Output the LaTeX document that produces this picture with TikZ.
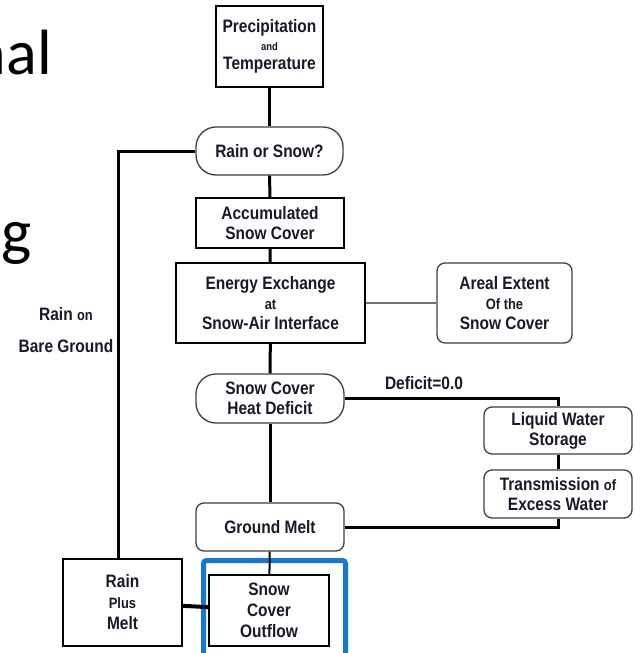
\documentclass[tikz,border=0pt]{standalone}
\usepackage{fontspec}
\newfontfamily\boxfont[FakeStretch=0.86]{Liberation Sans}
\newfontfamily\slidefont{Carlito}
\definecolor{txt}{RGB}{25,25,40}
\definecolor{frameblue}{RGB}{20,120,215}
\newcommand{\lil}[2][15]{{\fontsize{#1}{#1}\selectfont #2}}
\tikzset{box/.style={draw=black, line width=1.6pt, fill=white, text=txt, align=center, inner sep=0pt,
                     font={\boxfont\bfseries\fontsize{18}{20}\selectfont}},
         rbox/.style={box, draw=black!75, line width=1.3pt, rounded corners=8pt},
         pill/.style={rbox, rounded corners=20pt},
         link/.style={black, line width=3pt},
         lbl/.style={text=txt, inner sep=0pt, font={\boxfont\bfseries\fontsize{18}{20}\selectfont}}}

\begin{document}
\begin{tikzpicture}[x=1pt,y=-1pt]
  \clip (0,0) rectangle (633,653);
  \fill[white] (0,0) rectangle (633,653);
  % slide title fragments
  \node[font={\slidefont\fontsize{64}{64}\selectfont}, anchor=base east, inner sep=0pt] (titlea) at (52,74) {nal};
  \node[font={\slidefont\fontsize{64}{64}\selectfont}, anchor=base west, inner sep=0pt] (titleb) at (1,253) {g};
  % highlight frame
  \draw[frameblue, line width=5pt, rounded corners=3pt] (203.5,560.5) rectangle (345.5,700);
  % boxes
  \node[box, minimum width=107pt, minimum height=81pt] (prec) at (269.5,46.5)
       {Precipitation\\[-2pt]\lil[11]{and}\\[-1pt]Temperature};
  \node[pill, minimum width=147pt, minimum height=48pt] (rain) at (269.5,151) {Rain or Snow?};
  \node[box, minimum width=148pt, minimum height=50pt] (accum) at (270,223) {Accumulated\\Snow Cover};
  \node[box, minimum width=189pt, minimum height=80pt] (energy) at (270.5,303)
       {Energy Exchange\\\lil{at}\\Snow-Air Interface};
  \node[rbox, minimum width=135pt, minimum height=80pt] (areal) at (504.5,303)
       {Areal Extent\\\lil{Of the}\\Snow Cover};
  \node[pill, minimum width=148pt, minimum height=49pt] (deficit) at (270,398.5) {Snow Cover\\Heat Deficit};
  \node[rbox, minimum width=148pt, minimum height=47pt] (liquid) at (558,430.5) {Liquid Water\\Storage};
  \node[rbox, minimum width=148pt, minimum height=48pt] (trans) at (558,494) {Transmission \lil{of}\\Excess Water};
  \node[rbox, minimum width=148pt, minimum height=48pt] (ground) at (270,527) {Ground Melt};
  \node[box, minimum width=120pt, minimum height=71pt] (outflow) at (269,610.5) {Snow\\[1pt]Cover\\[1pt]Outflow};
  \node[box, minimum width=119pt, minimum height=87pt] (rpm) at (122.5,602.5) {Rain\\[1pt]\lil{Plus}\\[1pt]Melt};
  % labels
  \node[lbl, align=center] (barelbl) at (66,330) {Rain \lil{on}\\[12pt]Bare Ground};
  \node[lbl] (deflbl) at (424,383.5) {Deficit=0.0};
  % connectors
  \coordinate (lft) at (118,151);
  \draw[link] (prec) -- (rain);
  \draw[link] (rain) -- (accum);
  \draw[link] (accum) -- (energy);
  \draw[link] (energy) -- (deficit);
  \draw[link] (deficit) -- (ground);
  \draw[black, line width=2pt] (ground) -- (outflow);
  \draw[black!55, line width=2pt] (energy) -- (areal);
  \draw[link] (rain.west) -- (lft) -- (lft |- rpm.north);
  \draw[link] (deficit.east) -| (liquid.north);
  \draw[link] (liquid) -- (trans);
  \draw[link] (trans.south) |- (ground.east);
  \draw[black, line width=4pt] (rpm) -- (outflow);
\end{tikzpicture}
\end{document}
